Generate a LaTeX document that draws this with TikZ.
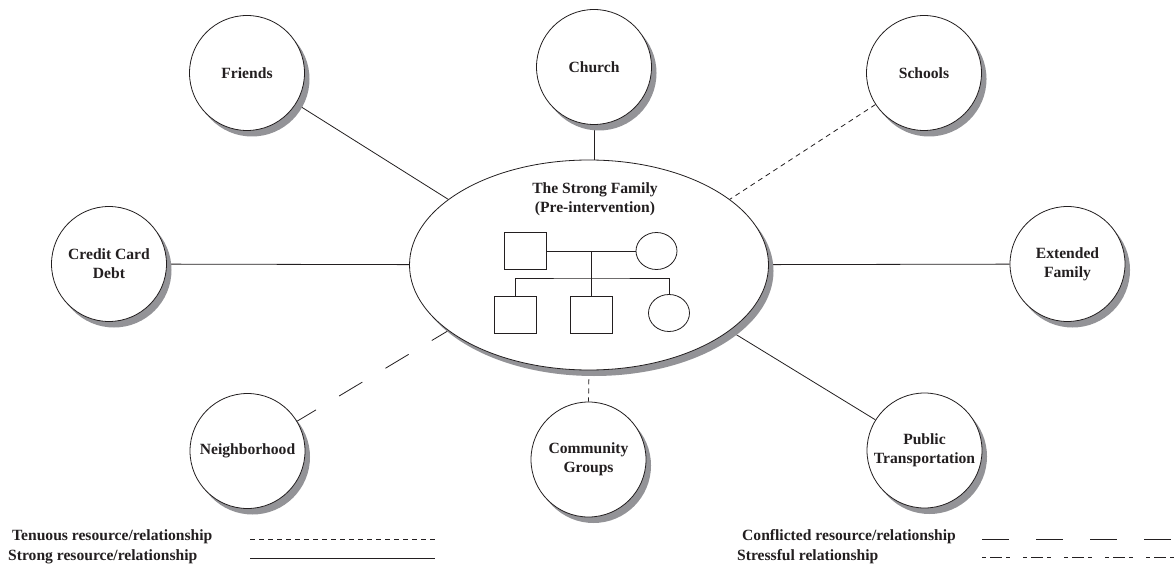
\documentclass[tikz,border=0pt]{standalone}
\usepackage{fontspec}
\setmainfont{Liberation Serif}
\usetikzlibrary{shapes.geometric,shadows,backgrounds}

\definecolor{ink}{HTML}{231F20}
\definecolor{shadowgray}{HTML}{939397}

\tikzset{
  every node/.style={font=\bfseries\fontsize{15.6}{18.8}\selectfont, text=ink},
  ecoshadow/.style={drop shadow={shadow xshift=5pt, shadow yshift=-6pt, fill=shadowgray, opacity=1}},
  resource/.style={circle, draw=ink, line width=0.8pt, fill=white, minimum size=115pt,
                   inner sep=0pt, align=center, ecoshadow},
  family/.style={ellipse, draw=ink, line width=0.8pt, fill=white, minimum width=359pt,
                 minimum height=210pt, inner sep=0pt, ecoshadow},
  male/.style={rectangle, draw=ink, line width=0.8pt, minimum width=42pt, minimum height=37pt, inner sep=0pt},
  female/.style={ellipse, draw=ink, line width=0.8pt, minimum width=41pt, minimum height=37pt, inner sep=0pt},
  kin/.style={draw=ink, line width=0.8pt},
  strong/.style={draw=ink, line width=0.8pt},
  tenuous/.style={draw=ink, line width=0.8pt, dash pattern=on 5pt off 4pt},
  conflicted/.style={draw=ink, line width=0.8pt, dash pattern=on 27pt off 27pt},
  stressful/.style={draw=ink, line width=0.8pt, dash pattern=on 4pt off 4pt on 12pt off 4pt on 4pt off 13pt},
  legendtext/.style={anchor=west, inner sep=0pt},
}

\begin{document}
\begin{tikzpicture}[x=1pt, y=-1pt]
  \useasboundingbox (0,0) rectangle (1174,569);

  % central family and its genogram
  \node[family] (fam) at (589,265) {};
  \node[align=center] (title) at (595,199.5) {The Strong Family\\(Pre-intervention)};
  \node[male]   (fa) at (525.5,251) {};
  \node[female] (mo) at (656.5,251) {};
  \node[male]   (s1) at (515,314.5) {};
  \node[male]   (s2) at (591,314.5) {};
  \node[female] (da) at (669,313) {};
  \coordinate (mid) at (591,251);
  \coordinate (bar) at (591,278);
  \draw[kin] (fa.east) -- (mo.west);
  \draw[kin] (mid) -- (s2.north);
  \draw[kin] (s1.north) |- (bar) -| (da.north);

  % surrounding resources
  \node[resource] (fr) at (247,73)    {Friends};
  \node[resource] (ch) at (594,67)    {Church};
  \node[resource] (sc) at (924,73)    {Schools};
  \node[resource] (cc) at (109,264)   {Credit Card\\Debt};
  \node[resource] (ef) at (1067.5,264) {Extended\\Family};
  \node[resource] (nb) at (247.5,451) {Neighborhood};
  \node[resource] (cg) at (588.5,459.5) {Community\\Groups};
  \node[resource] (pt) at (924.5,450.5) {Public\\Transportation};

  % relationships, kept under the shadows
  \begin{scope}[on background layer]
    \fill[white] (0,0) rectangle (1174,569);
    \draw[strong] (fr.-32) -- (fam.155);
    \draw[strong] (ch.south) -- (ch.south |- fam.north);
    \draw[tenuous] (sc.213) -- (fam.25);
    \draw[strong] (cc) -- (fam);
    \draw[strong] (fam) -- (ef);
    \draw[conflicted, dash phase=5pt] (nb.31) -- (fam.205);
    \draw[tenuous] (fam.south) -- (cg.north);
    \draw[strong] (fam.-25) -- (pt.148);
  \end{scope}

  % legend
  \node[legendtext] (lt) at (12,537) {Tenuous resource/relationship};
  \node[legendtext] (ls) at (8,557)  {Strong resource/relationship};
  \node[legendtext] (lc) at (742,537) {Conflicted resource/relationship};
  \node[legendtext] (lx) at (737,557) {Stressful relationship};
  \coordinate (lt1) at (250,539);  \coordinate (lt2) at (437,539);
  \coordinate (ls1) at (250,558);  \coordinate (ls2) at (435,558);
  \coordinate (lc1) at (982,539);  \coordinate (lc2) at (1174,539);
  \coordinate (lx1) at (982,557.5);  \coordinate (lx2) at (1174,557.5);
  \draw[tenuous] (lt1) -- (lt2);
  \draw[strong] (ls1) -- (ls2);
  \draw[conflicted] (lc1) -- (lc2);
  \draw[stressful] (lx1) -- (lx2);
\end{tikzpicture}
\end{document}
